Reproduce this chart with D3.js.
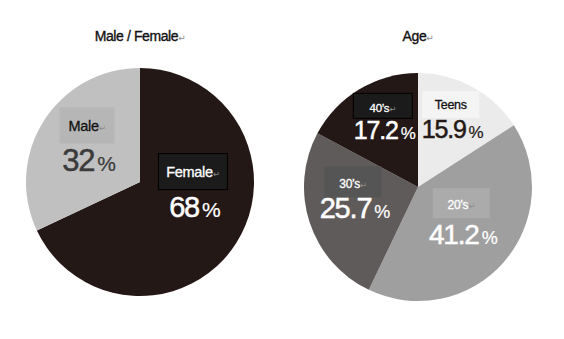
<!DOCTYPE html>
<html>
<head>
<meta charset="utf-8">
<script src="https://cdn.jsdelivr.net/npm/d3@7"></script>
<style>
  html, body { margin: 0; padding: 0; background: #fff; }
  svg { display: block; }
  text { font-family: "Liberation Sans", Arial, sans-serif; }
</style>
</head>
<body>
<svg id="chart" width="564" height="339"></svg>
<script>
// Survey breakdown: gender and age group (percent of respondents)
const genderTitle = "Male / Female";
const genderCategories = ["Female", "Male"];
const genderValues = [68, 32];

const ageTitle = "Age";
const ageCategories = ["Teens", "20's", "30's", "40's"];
const ageValues = [15.9, 41.2, 25.7, 17.2];

// Categories whose name is followed by a paragraph mark
const markedNames = ["Female", "Male", "20's", "30's", "40's"];

// Colours per category: slice, label box, name text, value text, box outline
const styles = {
  "Female": { slice: "#231815", box: "#1b1b1b", name: "#fff", value: "#fff", outline: "#000" },
  "Male":   { slice: "#c0c0c0", box: "#b6b6b6", name: "#111", value: "#3a3a3a", outline: null },
  "Teens":  { slice: "#ebebeb", box: "#f4f4f4", name: "#111", value: "#231815", outline: null },
  "20's":   { slice: "#9f9f9f", box: "#ababab", name: "#fff", value: "#fff", outline: null },
  "30's":   { slice: "#5f5b5a", box: "#555555", name: "#fff", value: "#fff", outline: null },
  "40's":   { slice: "#231815", box: "#1b1b1b", name: "#fff", value: "#fff", outline: "#000" }
};

// Label layout: box size, offsets of box/name relative to value baseline, font sizes, nudge from centroid
const labelLayout = {
  "Female": { w: 69, h: 36, boxTop: -63, nameY: -40, nameSize: 14.5, valueSize: 29, pctSize: 21, nudge: [0, 1] },
  "Male":   { w: 55, h: 36, boxTop: -64, nameY: -40, nameSize: 14.5, valueSize: 31, pctSize: 21, nudge: [0, 23] },
  "Teens":  { w: 57, h: 27, boxTop: -47, nameY: -29, nameSize: 12.5, valueSize: 25, pctSize: 17, nudge: [0, 11] },
  "20's":   { w: 57, h: 30, boxTop: -56, nameY: -35, nameSize: 12, valueSize: 28, pctSize: 18, nudge: [-8, 12] },
  "30's":   { w: 57, h: 31, boxTop: -52, nameY: -30, nameSize: 12, valueSize: 29, pctSize: 18, nudge: [0, 10] },
  "40's":   { w: 59, h: 25, boxTop: -46, nameY: -27, nameSize: 11.5, valueSize: 25, pctSize: 17, nudge: [0, 11] }
};

const svg = d3.select("#chart");

function displayName(c) { return c.replace("'", "\u2019"); }

function drawPie(cfg) {
  const data = cfg.categories.map((c, i) => ({ category: c, value: cfg.values[i] }));
  const pie = d3.pie().sort(null).value(d => d.value).startAngle(0).endAngle(2 * Math.PI);
  const arc = d3.arc().innerRadius(0).outerRadius(cfg.r);
  const labelArc = d3.arc().innerRadius(cfg.r * cfg.labelFrac).outerRadius(cfg.r * cfg.labelFrac);
  const arcs = pie(data);

  const g = svg.append("g").attr("transform", `translate(${cfg.cx},${cfg.cy})`);

  g.selectAll("path.slice")
    .data(arcs)
    .join("path")
    .attr("class", "slice")
    .attr("d", arc)
    .attr("fill", d => styles[d.data.category].slice);

  // Title above the pie
  const title = svg.append("text")
    .attr("x", cfg.cx)
    .attr("y", 41)
    .attr("text-anchor", "middle")
    .attr("font-size", 14)
    .attr("letter-spacing", -0.4)
    .attr("fill", "#111");
  title.append("tspan")
    .attr("stroke", "#111").attr("stroke-width", 0.35)
    .text(cfg.title);
  title.append("tspan").attr("font-size", 9).attr("fill", "#8a8a8a").attr("font-family", "DejaVu Sans").text("\u21B5");

  const labels = g.selectAll("g.label")
    .data(arcs)
    .join("g")
    .attr("class", "label")
    .attr("transform", d => {
      const [x, y] = labelArc.centroid(d);
      const n = labelLayout[d.data.category].nudge;
      return `translate(${x + n[0]},${y + n[1]})`;
    });

  labels.append("rect")
    .attr("x", d => -labelLayout[d.data.category].w / 2)
    .attr("y", d => labelLayout[d.data.category].boxTop)
    .attr("width", d => labelLayout[d.data.category].w)
    .attr("height", d => labelLayout[d.data.category].h)
    .attr("fill", d => styles[d.data.category].box)
    .attr("stroke", d => styles[d.data.category].outline || "none")
    .attr("stroke-width", 1);

  const names = labels.append("text")
    .attr("y", d => labelLayout[d.data.category].nameY)
    .attr("text-anchor", "middle")
    .attr("font-size", d => labelLayout[d.data.category].nameSize)
    .attr("letter-spacing", -0.3)
    .attr("fill", d => styles[d.data.category].name);
  names.append("tspan")
    .attr("stroke", d => styles[d.data.category].name)
    .attr("stroke-width", 0.3)
    .text(d => displayName(d.data.category));
  names.filter(d => markedNames.includes(d.data.category))
    .append("tspan")
    .attr("font-size", 8.5)
    .attr("fill", "#8a8a8a")
    .attr("font-family", "DejaVu Sans")
    .text("\u21B5");

  const vals = labels.append("text")
    .attr("x", 2)
    .attr("y", 0)
    .attr("text-anchor", "middle")
    .attr("fill", d => styles[d.data.category].value)
    .attr("stroke", d => styles[d.data.category].value);
  vals.append("tspan")
    .attr("font-size", d => labelLayout[d.data.category].valueSize)
    .attr("letter-spacing", -1.2)
    .attr("stroke-width", 0.5)
    .text(d => d.data.value);
  vals.append("tspan")
    .attr("dx", 3)
    .attr("font-size", d => labelLayout[d.data.category].pctSize)
    .attr("stroke-width", 0.2)
    .text("%");
}

drawPie({ title: genderTitle, categories: genderCategories, values: genderValues,
          cx: 140, cy: 182, r: 114, labelFrac: 0.55 });
drawPie({ title: ageTitle, categories: ageCategories, values: ageValues,
          cx: 418, cy: 187, r: 114, labelFrac: 0.6 });
</script>
</body>
</html>
